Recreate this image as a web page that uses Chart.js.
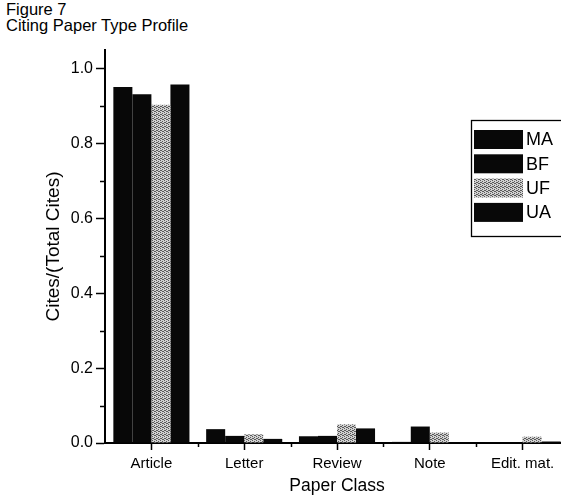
<!DOCTYPE html>
<html>
<head>
<meta charset="utf-8">
<script src="https://cdn.jsdelivr.net/npm/chart.js@4.4.1/dist/chart.umd.min.js"></script>
<style>
    html, body { margin: 0; padding: 0; background: #fff; overflow: hidden; width: 561px; height: 502px; }
    #wrap { position: relative; width: 580px; height: 502px; }
    #c { position: absolute; left: 0; top: 0; }
    .hdr { position: absolute; left: 6px; font-family: "Liberation Sans", Arial, sans-serif; font-size: 16.5px; color: #000; }
</style>
</head>
<body>
<div id="wrap">
    <div class="hdr" style="top: 0px;">Figure 7</div>
    <div class="hdr" style="top: 16px;">Citing Paper Type Profile</div>
    <canvas id="c" width="580" height="502"></canvas>
</div>
<script>
// -------- DATA --------
const categories = ["Article", "Letter", "Review", "Note", "Edit. mat."];
const seriesNames = ["MA", "BF", "UF", "UA"];
const maValues = [0.951, 0.037, 0.018, 0.003, 0.002];
const bfValues = [0.932, 0.019, 0.019, 0.044, 0.002];
const ufValues = [0.904, 0.023, 0.050, 0.028, 0.017];
const uaValues = [0.958, 0.011, 0.039, 0.002, 0.004];
const yTicks = [0, 0.2, 0.4, 0.6, 0.8, 1.0];

const FONT = "'Liberation Sans', Arial, sans-serif";

// -------- STIPPLE PATTERN FOR UF --------
function makeStipple() {
    const p = document.createElement("canvas");
    p.width = 4;
    p.height = 4;
    const g = p.getContext("2d");
    g.fillStyle = "#d0d0d0";
    g.fillRect(0, 0, 4, 4);
    g.fillStyle = "#5a5a5a";
    [[0, 0], [2, 1], [1, 2], [3, 3], [2, 3], [0, 2]].forEach(([x, y]) => g.fillRect(x, y, 1, 1));
    return g.createPattern(p, "repeat");
}
const stipple = makeStipple();
const fills = ["#080808", "#080808", stipple, "#080808"];

// -------- MINOR TICKS + BOXED LEGEND --------
const decorations = {
    id: "decorations",
    afterDraw(chart) {
        const { ctx, scales: { x, y } } = chart;
        ctx.save();
        ctx.strokeStyle = "#000";
        ctx.lineWidth = 1.5;

        // y minor ticks halfway between labels
        for (let i = 0; i < yTicks.length - 1; i++) {
            const py = Math.round(y.getPixelForValue((yTicks[i] + yTicks[i + 1]) / 2)) + 0.5;
            ctx.beginPath();
            ctx.moveTo(x.left - 5, py);
            ctx.lineTo(x.left, py);
            ctx.stroke();
        }
        // x minor ticks at category boundaries
        for (let i = 1; i <= categories.length; i++) {
            const px = Math.round(x.getPixelForValue(i - 0.5)) + 0.5;
            ctx.beginPath();
            ctx.moveTo(px, y.bottom);
            ctx.lineTo(px, y.bottom + 4);
            ctx.stroke();
        }

        // legend box (runs off the right edge like the scan)
        const bx = 471.5, by = 120.5;
        ctx.lineWidth = 1.3;
        ctx.strokeRect(bx, by, 200, 116);
        ctx.font = "18px " + FONT;
        ctx.textBaseline = "middle";
        chart.data.datasets.forEach((ds, i) => {
            const ry = 130 + i * 24.3;
            ctx.fillStyle = ds.backgroundColor;
            ctx.fillRect(474, ry, 49, 19);
            ctx.fillStyle = "#000";
            ctx.fillText(ds.label, 526, ry + 10.5);
        });
        ctx.restore();
    }
};

// -------- CHART --------
const ctx = document.getElementById("c").getContext("2d");

new Chart(ctx, {
    type: "bar",
    data: {
        labels: categories,
        datasets: [maValues, bfValues, ufValues, uaValues].map((vals, i) => ({
            label: seriesNames[i],
            data: vals,
            backgroundColor: fills[i],
            borderWidth: 0,
            categoryPercentage: 0.82,
            barPercentage: 1.0
        }))
    },
    options: {
        responsive: false,
        animation: false,
        layout: { padding: { left: 0, right: 11, top: 50, bottom: 0 } },
        plugins: {
            legend: { display: false },
            tooltip: { enabled: false }
        },
        scales: {
            x: {
                afterFit: s => { s.height = 59; },
                grid: {
                    display: true,
                    drawOnChartArea: false,
                    offset: false,
                    tickLength: 7,
                    tickWidth: 1.5,
                    tickColor: "#000"
                },
                border: { display: true, color: "#000", width: 2 },
                ticks: {
                    color: "#000",
                    padding: 5,
                    font: { family: FONT, size: 15 },
                    maxRotation: 0
                },
                title: {
                    display: true,
                    text: "Paper Class",
                    color: "#000",
                    font: { family: FONT, size: 17.5 },
                    padding: { top: 0, bottom: 5 }
                }
            },
            y: {
                min: 0,
                max: 1.05,
                afterFit: s => { s.width = 105; },
                afterBuildTicks: s => { s.ticks = yTicks.map(v => ({ value: v })); },
                grid: {
                    display: true,
                    drawOnChartArea: false,
                    tickLength: 9,
                    tickWidth: 1.5,
                    tickColor: "#000"
                },
                border: { display: true, color: "#000", width: 2 },
                ticks: {
                    color: "#000",
                    padding: 3,
                    font: { family: FONT, size: 16 },
                    callback: v => Number(v).toFixed(1)
                },
                title: {
                    display: true,
                    text: "Cites/(Total Cites)",
                    color: "#000",
                    font: { family: FONT, size: 19 },
                    padding: { top: 42, bottom: 0 }
                }
            }
        }
    },
    plugins: [decorations]
});
</script>
</body>
</html>
